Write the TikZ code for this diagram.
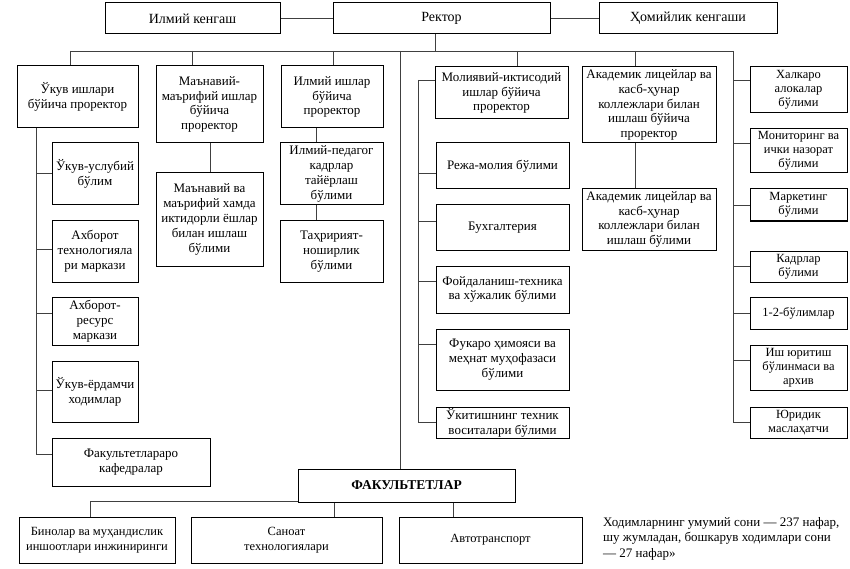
\documentclass[tikz,border=0pt]{standalone}
\usepackage{fontspec}
\setmainfont{Liberation Serif}
\usetikzlibrary{calc}
\tikzset{
  box/.style={draw=black, line width=1pt, inner sep=0pt, align=center, fill=white,
    font=\fontsize{13}{14.8}\selectfont},
  topbox/.style={box, font=\fontsize{14}{16}\selectfont},
  lowbox/.style={box, font=\fontsize{12.5}{15.5}\selectfont},
  rbox/.style={box, font=\fontsize{12.5}{14.2}\selectfont},
  conn/.style={draw=black!75, line width=0.9pt},
}
\newcommand\mkbox[7][]{\node[box, #1, minimum width={#5-#3}, minimum height={#6-#4}] (#2) at ({(#3+#5)/2},{(#4+#6)/2}) {#7};}
\begin{document}
\begin{tikzpicture}[x=1pt,y=-1pt]
\useasboundingbox[fill=white] (0,0) rectangle (850,569);
% top row
\mkbox[topbox]{ik}{105}{3}{280}{34}{Илмий кенгаш}
\mkbox[topbox]{rek}{333}{3}{550}{34}{Ректор}
\mkbox[topbox]{hom}{599}{3}{777}{34}{Ҳомийлик кенгаши}
% second row
\mkbox{uk}{17}{66}{138}{128}{Ўкув ишлари\\бўйича проректор}
\mkbox{man}{156}{66}{263}{143}{Маънавий-\\маърифий ишлар\\бўйича\\проректор}
\mkbox{ilm}{281}{66}{383}{128}{Илмий ишлар\\бўйича\\проректор}
\mkbox{mol}{435}{67}{568}{119}{Молиявий-иктисодий\\ишлар бўйича\\проректор}
\mkbox{akad}{582}{67}{716}{143}{Академик лицейлар ва\\касб-ҳунар\\коллежлари билан\\ишлаш бўйича\\проректор}
% left column
\mkbox{usl}{52}{143}{138}{205}{Ўкув-услубий\\бўлим}
\mkbox{axt}{52}{221}{138}{282}{Ахборот\\технологияла\\ри маркази}
\mkbox{axr}{52}{297}{138}{345}{Ахборот-\\ресурс\\маркази}
\mkbox{yord}{52}{361}{138}{422}{Ўкув-ёрдамчи\\ходимлар}
\mkbox{kaf}{52}{438}{210}{486}{Факультетлараро\\кафедралар}
% spiritual
\mkbox{mbox}{156}{173}{263}{266}{Маънавий ва\\маърифий хамда\\иктидорли ёшлар\\билан ишлаш\\бўлими}
% science
\mkbox{ped}{280}{143}{383}{205}{Илмий-педагог\\кадрлар\\тайёрлаш\\бўлими}
\mkbox{tax}{280}{221}{383}{282}{Таҳририят-\\ноширлик\\бўлими}
% finance group
\mkbox{reja}{436}{143}{569}{189}{Режа-молия бўлими}
\mkbox{buh}{436}{205}{569}{250}{Бухгалтерия}
\mkbox{foy}{436}{266}{569}{313}{Фойдаланиш-техника\\ва хўжалик бўлими}
\mkbox{fuk}{436}{329}{569}{390}{Фукаро ҳимояси ва\\меҳнат муҳофазаси\\бўлими}
\mkbox{ukit}{436}{407}{569}{438}{Ўкитишнинг техник\\воситалари бўлими}
% academic
\mkbox{akb}{582}{189}{716}{250}{Академик лицейлар ва\\касб-ҳунар\\коллежлари билан\\ишлаш бўлими}
% right column
\mkbox[rbox]{xal}{750}{67}{847}{113}{Халкаро\\алокалар\\бўлими}
\mkbox[rbox]{mon}{750}{129}{847}{173}{Мониторинг ва\\ички назорат\\бўлими}
\mkbox[rbox]{mark}{750}{189}{847}{221}{Маркетинг\\бўлими}
\mkbox[rbox]{kad}{750}{251}{847}{282}{Кадрлар\\бўлими}
\mkbox[rbox]{one}{750}{297}{847}{329}{1-2-бўлимлар}
\mkbox[rbox]{ish}{750}{345}{847}{390}{Иш юритиш\\бўлинмаси ва\\архив}
\mkbox[rbox]{yur}{750}{407}{847}{438}{Юридик\\маслаҳатчи}
% bottom
\mkbox[font=\fontsize{13.5}{16}\selectfont\bfseries]{fak}{298}{469}{515}{502}{ФАКУЛЬТЕТЛАР}
\mkbox[lowbox]{bin}{19}{517}{175}{563}{Бинолар ва муҳандислик\\иншоотлари инжиниринги}
\mkbox[lowbox]{san}{191}{517}{382}{563}{Саноат\\технологиялари}
\mkbox[lowbox]{avt}{399}{517}{582}{563}{Автотранспорт}
\node[anchor=north west, align=left, inner sep=0pt, font=\fontsize{13}{15.5}\selectfont] (note) at (603,517)
  {Ходимларнинг умумий сони — 237 нафар,\\шу жумладан, бошкарув ходимлари сони\\— 27 нафар»};
% connectors: top row
\draw[conn] (ik.east) -- (rek.west);
\draw[conn] (rek.east) -- (hom.west);
% bus
\coordinate (busL) at (70,51);
\coordinate (busR) at (733,51);
\coordinate (rd) at (435,51);
\coordinate (d2) at (192,51);
\coordinate (d3) at (333,51);
\coordinate (lv) at (400,51);
\coordinate (d5) at (517,51);
\coordinate (d6) at (635,51);
\draw[conn] (busL) -- (busR);
\draw[conn] (rd |- rek.south) -- (rd);
\draw[conn] (busL) -- (busL |- uk.north);
\draw[conn] (d2) -- (d2 |- man.north);
\draw[conn] (d3) -- (d3 |- ilm.north);
\draw[conn] (lv) -- (lv |- fak.north);
\draw[conn] (d5) -- (d5 |- mol.north);
\draw[conn] (d6) -- (d6 |- akad.north);
% right column
\coordinate (rend) at (733,422);
\draw[conn] (busR) -- (rend);
\foreach \n/\y in {xal/80, mon/143, mark/205, kad/266, one/313, ish/360, yur/422}{
  \coordinate (t) at (733,\y);
  \draw[conn] (t) -- (t -| \n.west);
}
% left column
\coordinate (lt) at (36,128);
\coordinate (lb) at (36,454);
\draw[conn] (lt) -- (lb);
\foreach \n/\y in {usl/173, axt/249, axr/313, yord/390, kaf/454}{
  \coordinate (t) at (36,\y);
  \draw[conn] (t) -- (t -| \n.west);
}
% finance group line
\coordinate (gt) at (418,80);
\coordinate (gb) at (418,422);
\draw[conn] (gt) -- (gb);
\foreach \n/\y in {mol/80, reja/173, buh/221, foy/281, fuk/344, ukit/422}{
  \coordinate (t) at (418,\y);
  \draw[conn] (t) -- (t -| \n.west);
}
% sub-chains
\coordinate (mx) at (210,0);
\draw[conn] (mx |- man.south) -- (mx |- mbox.north);
\coordinate (ix) at (316,0);
\draw[conn] (ix |- ilm.south) -- (ix |- ped.north);
\draw[conn] (ix |- ped.south) -- (ix |- tax.north);
\coordinate (ax) at (635,0);
\draw[conn] (ax |- akad.south) -- (ax |- akb.north);
% faculties
\coordinate (fb) at (90,501);
\draw[conn] (fb -| fak.west) -- (fb) -- (fb |- bin.north);
\coordinate (f2) at (334,0);
\coordinate (f3) at (453,0);
\draw[conn] (f2 |- fak.south) -- (f2 |- san.north);
\draw[conn] (f3 |- fak.south) -- (f3 |- avt.north);
\end{tikzpicture}
\end{document}
